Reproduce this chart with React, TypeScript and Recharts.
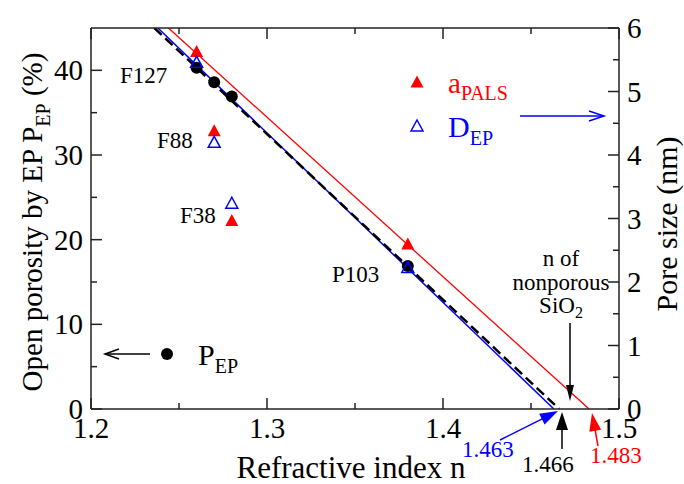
import React from 'react';
import { ComposedChart, XAxis, YAxis, Line, Scatter } from 'recharts';

// ---------- data ----------
const xTicks = [1.2, 1.25, 1.3, 1.35, 1.4, 1.45, 1.5];
const xMajor = [1.2, 1.3, 1.4, 1.5];
const leftTicks = [0, 5, 10, 15, 20, 25, 30, 35, 40];
const leftMajor = [0, 10, 20, 30, 40];
const rightTicks = [0, 0.5, 1, 1.5, 2, 2.5, 3, 3.5, 4, 4.5, 5, 5.5, 6];
const rightMajor = [0, 1, 2, 3, 4, 5, 6];

// open porosity P_EP (%) vs refractive index
const pepN = [1.26, 1.27, 1.28, 1.38];
const pepVal = [40.3, 38.6, 36.9, 16.9];
// a_PALS (nm)
const palsN = [1.26, 1.27, 1.28, 1.38];
const palsVal = [5.63, 4.38, 2.97, 2.6];
// D_EP (nm)
const depN = [1.26, 1.27, 1.28, 1.38];
const depVal = [5.46, 4.2, 3.24, 2.23];
// fit lines (left axis units)
const fitEpN = [1.236, 1.466];
const fitEpVal = [45, 0];
const fitBlueN = [1.238, 1.463];
const fitBlueVal = [45, 0];
const fitRedN = [1.244, 1.483];
const fitRedVal = [45, 0];

const zip = (xs: number[], ys: number[]) => xs.map((n, i) => ({ n, v: ys[i] }));
const pepData = zip(pepN, pepVal);
const palsData = zip(palsN, palsVal);
const depData = zip(depN, depVal);
const fitEpData = zip(fitEpN, fitEpVal);
const fitBlueData = zip(fitBlueN, fitBlueVal);
const fitRedData = zip(fitRedN, fitRedVal);

const FONT = '"Liberation Serif", "DejaVu Serif", serif';
const AX = '#222';
const RED = '#ff0000';
const BLUE = '#0000ff';
const TICK_FS = 29;
const TS = { fontFamily: FONT };

const near = (arr: number[], v: number) => arr.some((a) => Math.abs(a - v) < 1e-6);

const BottomTick = (p: any) => {
  const major = near(xMajor, p.payload.value);
  return (
    <g>
      <line x1={p.x} x2={p.x} y1={p.y} y2={p.y - (major ? 11 : 6)} stroke={AX} strokeWidth={1.5} />
      {major && (
        <text x={p.x} y={p.y + 29} textAnchor="middle" style={TS} fontSize={TICK_FS} fill="#000">
          {String(p.payload.value.toFixed(1))}
        </text>
      )}
    </g>
  );
};
const TopTick = (p: any) => {
  const major = near(xMajor, p.payload.value);
  return <line x1={p.x} x2={p.x} y1={p.y} y2={p.y + (major ? 11 : 6)} stroke={AX} strokeWidth={1.5} />;
};
const LeftTick = (p: any) => {
  const major = near(leftMajor, p.payload.value);
  return (
    <g>
      <line x1={p.x} x2={p.x + (major ? 11 : 6)} y1={p.y} y2={p.y} stroke={AX} strokeWidth={1.5} />
      {major && (
        <text x={p.x - 8} y={p.y + 10} textAnchor="end" style={TS} fontSize={TICK_FS} fill="#000">
          {String(p.payload.value)}
        </text>
      )}
    </g>
  );
};
const RightTick = (p: any) => {
  const major = near(rightMajor, p.payload.value);
  return (
    <g>
      <line x1={p.x} x2={p.x - (major ? 11 : 6)} y1={p.y} y2={p.y} stroke={AX} strokeWidth={1.5} />
      {major && (
        <text x={p.x + 8} y={p.y + 10} textAnchor="start" style={TS} fontSize={TICK_FS} fill="#000">
          {String(p.payload.value)}
        </text>
      )}
    </g>
  );
};

const Circle = (p: any) => <circle cx={p.cx} cy={p.cy} r={6} fill="#000" />;
const RedTri = (p: any) => (
  <path d={`M${p.cx - 6.5},${p.cy + 5.5} L${p.cx + 6.5},${p.cy + 5.5} L${p.cx},${p.cy - 6.5} Z`} fill={RED} />
);
const BlueTri = (p: any) => (
  <path
    d={`M${p.cx - 6},${p.cy + 5} L${p.cx + 6},${p.cy + 5} L${p.cx},${p.cy - 6} Z`}
    fill="none"
    stroke={BLUE}
    strokeWidth={1.5}
  />
);

function Arrow({ x1, y1, x2, y2, color, filled = true, len = 16, half = 5, w = 1.5 }: any) {
  const dx = x2 - x1;
  const dy = y2 - y1;
  const L = Math.sqrt(dx * dx + dy * dy);
  const ux = dx / L;
  const uy = dy / L;
  const px = -uy;
  const py = ux;
  const bx = x2 - ux * len;
  const by = y2 - uy * len;
  const a = `${bx + px * half},${by + py * half}`;
  const b = `${bx - px * half},${by - py * half}`;
  return (
    <g>
      <line x1={x1} y1={y1} x2={filled ? bx + ux * 2 : x2} y2={filled ? by + uy * 2 : y2} stroke={color} strokeWidth={w} />
      {filled ? (
        <path d={`M${x2},${y2} L${a} L${b} Z`} fill={color} />
      ) : (
        <path d={`M${a} L${x2},${y2} L${b}`} fill="none" stroke={color} strokeWidth={w} />
      )}
    </g>
  );
}

const Overlay = () => (
  <svg width={684} height={484} style={{ position: 'absolute', left: 0, top: 0, pointerEvents: 'none' }}>
    <g style={TS}>
      {/* sample labels */}
      <text x={120} y={83} fontSize={23}>F127</text>
      <text x={157} y={148} fontSize={23}>F88</text>
      <text x={180} y={223} fontSize={23}>F38</text>
      <text x={332} y={282} fontSize={23}>P103</text>

      {/* legend a_PALS / D_EP */}
      <path d="M410.5,87.5 L423.5,87.5 L417,75.5 Z" fill={RED} />
      <text x={448} y={93} fontSize={29} fill={RED}>
        a<tspan fontSize={20} dy={7}>PALS</tspan>
      </text>
      <path d="M411,131 L423,131 L417,120 Z" fill="none" stroke={BLUE} strokeWidth={1.5} />
      <text x={448} y={137} fontSize={30} fill={BLUE}>
        D<tspan fontSize={20} dy={8}>EP</tspan>
      </text>
      <Arrow x1={520} y1={116} x2={604} y2={116} color={BLUE} filled={false} len={15} half={5} />

      {/* legend P_EP */}
      <circle cx={167} cy={354} r={6} fill="#000" />
      <text x={198} y={365} fontSize={30} fill="#000">
        P<tspan fontSize={20} dy={8}>EP</tspan>
      </text>
      <Arrow x1={150} y1={354} x2={105} y2={354} color="#000" filled={false} len={14} half={5} />

      {/* n of nonporous SiO2 */}
      <text x={561} y={266} fontSize={23} textAnchor="middle">n of</text>
      <text x={561} y={290} fontSize={23} textAnchor="middle">nonporous</text>
      <text x={561} y={313} fontSize={23} textAnchor="middle">
        SiO<tspan fontSize={16} dy={5}>2</tspan>
      </text>
      <Arrow x1={570} y1={323} x2={570} y2={401} color="#000" len={16} half={4} />

      {/* intercept arrows */}
      <Arrow x1={500} y1={440} x2={558} y2={411} color={BLUE} len={18} half={6} />
      <text x={462} y={457} fontSize={23} fill={BLUE}>1.463</text>
      <Arrow x1={562} y1={449} x2={562} y2={412} color="#000" len={18} half={6} />
      <text x={522} y={472} fontSize={23} fill="#000">1.466</text>
      <Arrow x1={598} y1={446} x2={592} y2={413} color={RED} len={18} half={6} />
      <text x={590} y={463} fontSize={23} fill={RED}>1.483</text>

      {/* axis titles */}
      <text x={351} y={478} fontSize={31} textAnchor="middle">Refractive index n</text>
      <text transform="translate(42,222) rotate(-90)" fontSize={29} textAnchor="middle">
        Open porosity by EP P<tspan fontSize={20} dy={8}>EP</tspan>
        <tspan dy={-8}> (%)</tspan>
      </text>
      <text transform="translate(677,224) rotate(-90)" fontSize={30} textAnchor="middle">Pore size (nm)</text>
    </g>
  </svg>
);

export default function App() {
  return (
    <div style={{ position: 'absolute', left: 0, top: 0, width: 684, height: 484, background: '#fff' }}>
      <ComposedChart width={684} height={484} margin={{ top: 27, right: 64, bottom: 74, left: 90 }}>
        <XAxis
          xAxisId="b"
          type="number"
          dataKey="n"
          domain={[1.2, 1.5]}
          ticks={xTicks}
          interval={0}
          height={1}
          tickSize={0}
          tickMargin={0}
          tickLine={false}
          tick={<BottomTick />}
          stroke={AX}
          strokeWidth={1.5}
          allowDataOverflow
        />
        <XAxis
          xAxisId="t"
          orientation="top"
          type="number"
          dataKey="n"
          domain={[1.2, 1.5]}
          ticks={xTicks}
          interval={0}
          height={1}
          tickSize={0}
          tickMargin={0}
          tickLine={false}
          tick={<TopTick />}
          stroke={AX}
          strokeWidth={1.5}
          allowDataOverflow
        />
        <YAxis
          yAxisId="l"
          type="number"
          domain={[0, 45]}
          ticks={leftTicks}
          interval={0}
          width={1}
          tickSize={0}
          tickMargin={0}
          tickLine={false}
          tick={<LeftTick />}
          stroke={AX}
          strokeWidth={1.5}
          allowDataOverflow
        />
        <YAxis
          yAxisId="r"
          orientation="right"
          type="number"
          domain={[0, 6]}
          ticks={rightTicks}
          interval={0}
          width={1}
          tickSize={0}
          tickMargin={0}
          tickLine={false}
          tick={<RightTick />}
          stroke={AX}
          strokeWidth={1.5}
          allowDataOverflow
        />
        <Line
          xAxisId="b"
          yAxisId="l"
          data={fitBlueData}
          dataKey="v"
          stroke={BLUE}
          strokeWidth={1.5}
          dot={false}
          activeDot={false}
          isAnimationActive={false}
        />
        <Line
          xAxisId="b"
          yAxisId="l"
          data={fitEpData}
          dataKey="v"
          stroke="#000"
          strokeWidth={2.5}
          strokeDasharray="10 5"
          dot={false}
          activeDot={false}
          isAnimationActive={false}
        />
        <Line
          xAxisId="b"
          yAxisId="l"
          data={fitRedData}
          dataKey="v"
          stroke={RED}
          strokeWidth={1.3}
          dot={false}
          activeDot={false}
          isAnimationActive={false}
        />
        <Scatter xAxisId="b" yAxisId="l" data={pepData} dataKey="v" shape={<Circle />} isAnimationActive={false} />
        <Scatter xAxisId="b" yAxisId="r" data={palsData} dataKey="v" shape={<RedTri />} isAnimationActive={false} />
        <Scatter xAxisId="b" yAxisId="r" data={depData} dataKey="v" shape={<BlueTri />} isAnimationActive={false} />
      </ComposedChart>
      <Overlay />
    </div>
  );
}
